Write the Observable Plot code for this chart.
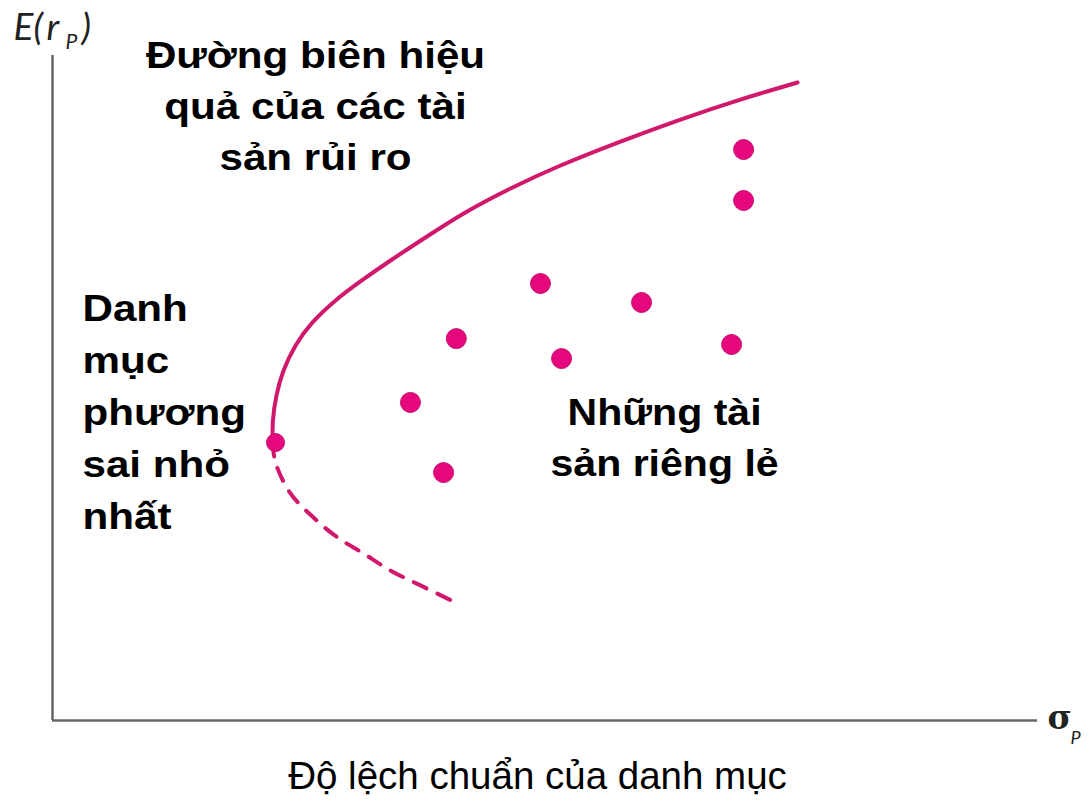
<!DOCTYPE html>
<html>
<head>
<meta charset="utf-8">
<script src="https://cdn.jsdelivr.net/npm/d3@7"></script>
<script src="https://cdn.jsdelivr.net/npm/@observablehq/plot@0.6"></script>
<style>
  html, body { margin: 0; padding: 0; background: #fff; }
  #chart svg { display: block; }
</style>
</head>
<body>
<div id="chart"></div>
<script>
// Individual risky assets (σ, E(r))
const assetSigma  = [35.08, 35.08, 24.77, 29.90, 20.50, 25.84, 34.47, 18.17, 19.85];
const assetReturn = [30.05, 27.37, 23.00, 22.00, 20.10, 19.05, 19.79, 16.74, 13.05];

// Efficient frontier (upper, solid)
const frontierSigma  = [11.17, 11.19, 11.37, 11.73, 12.34, 13.20, 14.37, 15.63, 17.16, 18.93, 20.96, 23.25, 25.79, 28.83, 31.88, 34.92, 37.82];
const frontierReturn = [14.63, 15.79, 17.11, 18.42, 19.74, 20.95, 22.11, 23.11, 24.21, 25.42, 26.74, 28.00, 29.21, 30.47, 31.63, 32.68, 33.58];

// Inefficient part of the frontier (lower, dashed)
const lowerSigma  = [11.17, 11.32, 12.08, 13.25, 14.47, 15.79, 17.16, 18.68, 20.46];
const lowerReturn = [14.63, 13.58, 11.95, 10.68, 9.63, 8.79, 7.89, 7.11, 6.21];

// Minimum-variance portfolio
const minVarSigma = [11.32];
const minVarReturn = [14.63];

// Labels
const frontierLabel = "Đường biên hiệu\nquả của các tài\nsản rủi ro";
const minVarLabel = "Danh\nmục\nphương\nsai nhỏ\nnhất";
const assetsLabel = "Những tài\nsản riêng lẻ";
const xTitle = "Độ lệch chuẩn của danh mục";

const assets = assetSigma.map((s, i) => ({s, r: assetReturn[i]}));
const upper = frontierSigma.map((s, i) => ({s, r: frontierReturn[i]}));
const lower = lowerSigma.map((s, i) => ({s, r: lowerReturn[i]}));
const minVar = minVarSigma.map((s, i) => ({s, r: minVarReturn[i]}));

const LINE = "#d0186c";
const DOT = "#e6067e";
const FONT = "'Liberation Sans', Arial, sans-serif";
const ITAL = "Lato, 'Liberation Sans', sans-serif";

const chart = Plot.plot({
  width: 1092,
  height: 805,
  marginLeft: 52,
  marginRight: 55,
  marginTop: 55,
  marginBottom: 85,
  x: {domain: [0, 50], axis: null},
  y: {domain: [0, 35], axis: null},
  style: {background: "white", fontFamily: FONT, overflow: "visible"},
  marks: [
    // axes
    Plot.ruleX([0], {y1: 0, y2: 35, stroke: "#666", strokeWidth: 2.5}),
    Plot.ruleY([0], {x1: 0, x2: 50, stroke: "#666", strokeWidth: 2.5}),
    // frontier
    Plot.line(lower, {x: "s", y: "r", stroke: LINE, strokeWidth: 4, strokeDasharray: "14,12", curve: "catmull-rom"}),
    Plot.line(upper, {x: "s", y: "r", stroke: LINE, strokeWidth: 4, curve: "natural"}),
    // assets
    Plot.dot(assets, {x: "s", y: "r", r: 10, fill: DOT, stroke: "#c4106c", strokeWidth: 1}),
    Plot.dot(minVar, {x: "s", y: "r", r: 9, fill: DOT, stroke: "#c4106c", strokeWidth: 1}),
    // annotations
    Plot.text([frontierLabel], {x: () => 13.35, y: () => 28.95, text: d => d, fontSize: 37, fontWeight: "bold", lineHeight: 1.39, lineAnchor: "bottom", textAnchor: "middle", fill: "#000"}),
    Plot.text([minVarLabel], {x: () => 1.52, y: () => 10.1, text: d => d, fontSize: 37, fontWeight: "bold", lineHeight: 1.40, lineAnchor: "bottom", textAnchor: "start", fill: "#000"}),
    Plot.text([assetsLabel], {x: () => 31.07, y: () => 12.89, text: d => d, fontSize: 37, fontWeight: "bold", lineHeight: 1.36, lineAnchor: "bottom", textAnchor: "middle", fill: "#000"}),
    Plot.text([xTitle], {x: () => 24.62, y: () => -3.58, text: d => d, fontSize: 38.5, lineAnchor: "bottom", textAnchor: "middle", fill: "#000"}),
    // y axis symbol E(r_P)
    Plot.text(["E("], {x: () => 0, y: () => 35.79, text: d => d, fontSize: 37, fontStyle: "italic", fontFamily: ITAL, textAnchor: "start", lineAnchor: "bottom", dx: -39, fill: "#222"}),
    Plot.text(["r"], {x: () => 0, y: () => 35.79, text: d => d, fontSize: 37, fontStyle: "italic", fontFamily: ITAL, textAnchor: "start", lineAnchor: "bottom", dx: -6, fill: "#222"}),
    Plot.text(["P"], {x: () => 0, y: () => 35.79, text: d => d, fontSize: 21, fontStyle: "italic", fontFamily: ITAL, textAnchor: "start", lineAnchor: "bottom", dx: 13, dy: 9, fill: "#222"}),
    Plot.text([")"], {x: () => 0, y: () => 35.79, text: d => d, fontSize: 37, fontStyle: "italic", fontFamily: ITAL, textAnchor: "start", lineAnchor: "bottom", dx: 29, fill: "#222"}),
    // x axis symbol σ_P
    Plot.text(["σ"], {x: () => 50, y: () => 0, text: d => d, fontSize: 33, fontFamily: "'DejaVu Serif', serif", fontWeight: "bold", textAnchor: "start", lineAnchor: "bottom", dx: 10, dy: 8, fill: "#222"}),
    Plot.text(["P"], {x: () => 50, y: () => 0, text: d => d, fontSize: 18, fontStyle: "italic", fontFamily: ITAL, textAnchor: "start", lineAnchor: "bottom", dx: 33, dy: 23, fill: "#222"})
  ]
});

// the reference's bold labels are horizontally stretched
d3.select(chart).selectAll("text").each(function () {
  const t = this.textContent;
  let k = 0;
  if (t.startsWith("Đường") || t.startsWith("Danh")) k = 1.14;
  else if (t.startsWith("Những")) k = 1.11;
  if (k) {
    const tr = this.getAttribute("transform") || "";
    this.setAttribute("transform", tr + ` scale(${k},1)`);
  }
});

document.getElementById("chart").appendChild(chart);
</script>
</body>
</html>
